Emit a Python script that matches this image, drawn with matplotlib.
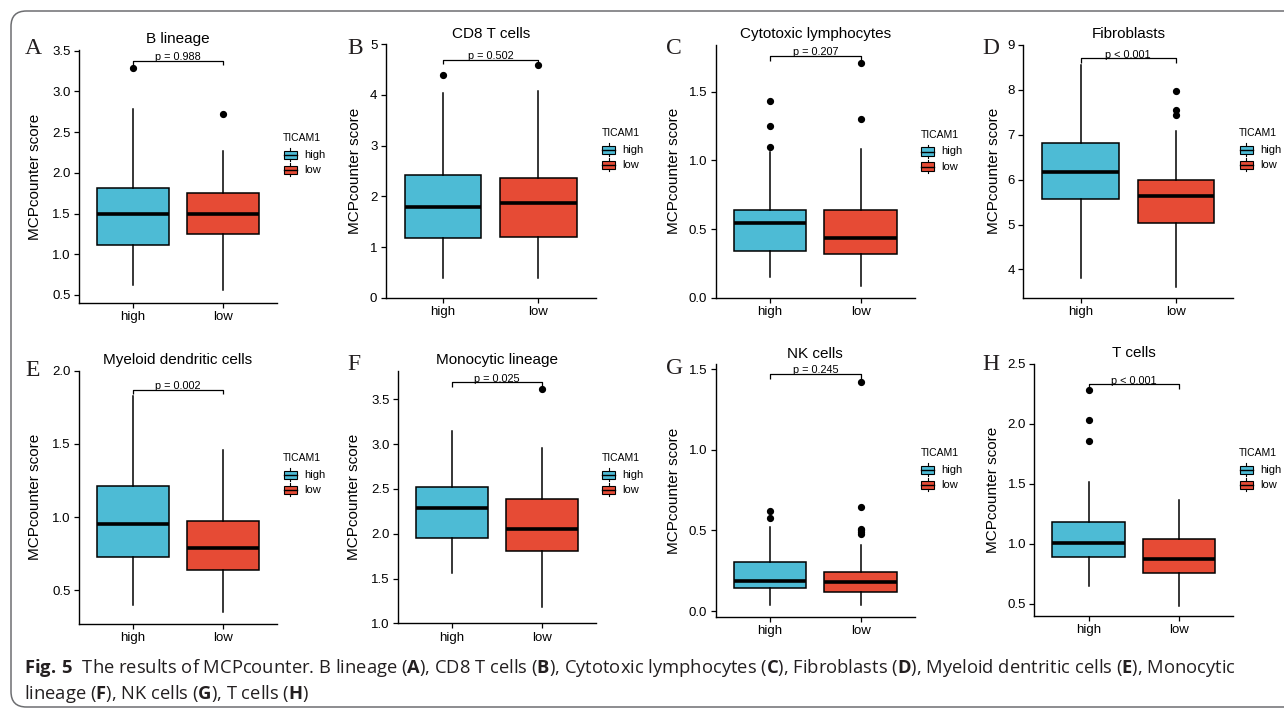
import matplotlib
matplotlib.use("Agg")
import matplotlib.pyplot as plt
from matplotlib import patches, font_manager
from matplotlib.lines import Line2D

W, H = 1284, 711

# ---- data ----
titles = ["B lineage", "CD8 T cells", "Cytotoxic lymphocytes", "Fibroblasts",
          "Myeloid dendritic cells", "Monocytic lineage", "NK cells", "T cells"]
letters = ["A", "B", "C", "D", "E", "F", "G", "H"]
groups = ["high", "low"]
p_text = ["p = 0.988", "p = 0.502", "p = 0.207", "p < 0.001",
          "p = 0.002", "p = 0.025", "p = 0.245", "p < 0.001"]
bracket_y = [3.38, 4.70, 1.76, 8.70, 1.87, 3.69, 1.47, 2.33]

# whisker low, Q1, median, Q3, whisker high
high_stats = [
    [0.62, 1.11, 1.50, 1.81, 2.79],
    [0.38, 1.17, 1.78, 2.43, 4.04],
    [0.15, 0.34, 0.545, 0.635, 1.06],
    [3.82, 5.57, 6.17, 6.82, 8.55],
    [0.40, 0.73, 0.95, 1.21, 1.83],
    [1.56, 1.95, 2.29, 2.52, 3.15],
    [0.037, 0.14, 0.188, 0.306, 0.52],
    [0.65, 0.895, 1.005, 1.18, 1.52],
]
low_stats = [
    [0.56, 1.245, 1.49, 1.755, 2.27],
    [0.38, 1.19, 1.86, 2.36, 4.08],
    [0.085, 0.316, 0.433, 0.635, 1.08],
    [3.61, 5.03, 5.63, 5.99, 7.09],
    [0.35, 0.637, 0.789, 0.973, 1.46],
    [1.185, 1.81, 2.05, 2.39, 2.96],
    [0.037, 0.116, 0.182, 0.242, 0.41],
    [0.486, 0.758, 0.874, 1.04, 1.37],
]
high_out = [[3.29], [4.39], [1.10, 1.25, 1.43], [], [], [], [0.58, 0.62], [1.86, 2.03, 2.28]]
low_out = [[2.72], [4.59], [1.30, 1.71], [7.43, 7.56, 7.97], [], [3.62],
           [0.48, 0.49, 0.50, 0.51, 0.647, 1.42], []]

ytick_labels = [
    ["0.5", "1.0", "1.5", "2.0", "2.5", "3.0", "3.5"],
    ["0", "1", "2", "3", "4", "5"],
    ["0.0", "0.5", "1.0", "1.5"],
    ["4", "5", "6", "7", "8", "9"],
    ["0.5", "1.0", "1.5", "2.0"],
    ["1.0", "1.5", "2.0", "2.5", "3.0", "3.5"],
    ["0.0", "0.5", "1.0", "1.5"],
    ["0.5", "1.0", "1.5", "2.0", "2.5"],
]
ylims = [(0.40, 3.51), (0.0, 5.0), (0.0, 1.84), (3.37, 9.0),
         (0.27, 2.0), (1.0, 3.82), (-0.035, 1.53), (0.40, 2.5)]

# ---- layout (pixels from top-left) ----
ax_px = [(79, 50, 277, 303), (385.7, 44.3, 595.7, 297.7), (715.7, 45, 915, 297.7),
         (1023.3, 45, 1233.3, 297.7), (79, 370.7, 276.7, 624), (397.7, 370.7, 595.7, 623.3),
         (715.7, 364.3, 915, 616.7), (1034.3, 364, 1233.3, 616)]
ylab_x = [35, 355, 674, 994, 35, 354, 674, 993]
letter_xy = [(25, 48), (347, 48), (666, 48), (982, 48),
             (25, 371), (347, 364), (666, 369), (982, 364)]
legend_xy = [(283.3, 138.3), (601.7, 133.3), (920.7, 135), (1239.3, 133.3),
             (283.3, 458.3), (601.7, 458.3), (920.7, 453.3), (1239.3, 453.3)]

colors = ["#4DBBD5", "#E64B35"]
sans = "Liberation Sans"

fig = plt.figure(figsize=(W / 100, H / 100), dpi=100)


def fx(x):
    return x / W


def fy(y):
    return 1 - y / H


for i in range(8):
    l, t, r, b = ax_px[i]
    ax = fig.add_axes([fx(l), fy(b), (r - l) / W, (b - t) / H])
    stats = []
    for g, s, o in zip(groups, [high_stats[i], low_stats[i]], [high_out[i], low_out[i]]):
        stats.append(dict(label=g, whislo=s[0], q1=s[1], med=s[2], q3=s[3],
                          whishi=s[4], fliers=o))
    bp = ax.bxp(stats, positions=[1, 2], widths=0.8, patch_artist=True, showcaps=False,
                boxprops=dict(edgecolor="black", linewidth=1.1),
                medianprops=dict(color="black", linewidth=2.6, solid_capstyle="butt"),
                whiskerprops=dict(color="black", linewidth=1.1),
                flierprops=dict(marker="o", markerfacecolor="black", markeredgecolor="black",
                                markersize=4.2))
    for patch, c in zip(bp["boxes"], colors):
        patch.set_facecolor(c)
    ax.set_xlim(0.4, 2.6)
    ax.set_ylim(*ylims[i])
    ax.set_yticks([float(v) for v in ytick_labels[i]])
    ax.set_yticklabels(ytick_labels[i])
    ax.set_xticks([1, 2])
    ax.set_xticklabels(groups)
    for side in ["top", "right"]:
        ax.spines[side].set_visible(False)
    for side in ["left", "bottom"]:
        ax.spines[side].set_linewidth(1.0)
    ax.tick_params(length=3.5, width=0.9, labelsize=9.5, pad=2.5, colors="black")
    for lab in ax.get_xticklabels() + ax.get_yticklabels():
        lab.set_fontfamily(sans)
    ax.set_title(titles[i], fontsize=11, family=sans, pad=4.8)

    # significance bracket
    yb = bracket_y[i]
    d = 0.018 * (ylims[i][1] - ylims[i][0])
    ax.plot([1, 1, 2, 2], [yb - d, yb, yb, yb - d], color="black", lw=0.9,
            clip_on=False, solid_capstyle="butt")
    ax.annotate(p_text[i], (1.5, yb), xytext=(0, 0.6), textcoords="offset points",
                ha="center", va="baseline", fontsize=7.8, family=sans, annotation_clip=False)

    # y label
    fig.text(fx(ylab_x[i]), fy((t + b) / 2), "MCPcounter score", rotation=90,
             ha="center", va="center", fontsize=11, family=sans)

    # panel letter
    lx, ly = letter_xy[i]
    fig.text(fx(lx), fy(ly), letters[i], ha="left", va="center", fontsize=17,
             family="Liberation Serif", color="#231F20")

    # legend
    gx, gy = legend_xy[i]
    fig.text(fx(gx), fy(gy), "TICAM1", ha="left", va="center", fontsize=7.5, family=sans)
    for k, (g, c) in enumerate(zip(groups, colors)):
        ky = gy + 16.5 + 15 * k
        fig.patches.append(patches.Rectangle((fx(gx + 0.5), fy(ky + 4.3)), 13 / W, 8.6 / H,
                                             transform=fig.transFigure, facecolor=c,
                                             edgecolor="black", linewidth=0.8))
        fig.lines.append(Line2D([fx(gx + 0.5), fx(gx + 13.5)], [fy(ky), fy(ky)],
                                transform=fig.transFigure, color="black", lw=1.0))
        for y0, y1 in [(ky - 4.3, ky - 6.5), (ky + 4.3, ky + 6.5)]:
            fig.lines.append(Line2D([fx(gx + 7), fx(gx + 7)], [fy(y0), fy(y1)],
                                    transform=fig.transFigure, color="black", lw=0.8))
        fig.text(fx(gx + 20.5), fy(ky), g, ha="left", va="center", fontsize=8, family=sans)

# outer frame
fig.patches.append(patches.FancyBboxPatch((fx(11), fy(707)), 1300 / W, 696 / H,
                                          boxstyle="round,pad=0,rounding_size=0.012",
                                          transform=fig.transFigure, facecolor="none",
                                          edgecolor="#6D6E71", linewidth=1.1,
                                          mutation_aspect=W / H))

# caption
names = {f.name for f in font_manager.fontManager.ttflist}
cap_font = "Liberation Sans Narrow" if "Liberation Sans Narrow" in names else "Open Sans"
plt.rcParams["mathtext.fontset"] = "custom"
plt.rcParams["mathtext.rm"] = cap_font
plt.rcParams["mathtext.bf"] = cap_font + ":bold"

line1 = (r"$\mathbf{Fig.\,5}$  The results of MCPcounter. B lineage ($\mathbf{A}$), "
         r"CD8 T cells ($\mathbf{B}$), Cytotoxic lymphocytes ($\mathbf{C}$), "
         r"Fibroblasts ($\mathbf{D}$), Myeloid dentritic cells ($\mathbf{E}$), Monocytic")
line2 = r"lineage ($\mathbf{F}$), NK cells ($\mathbf{G}$), T cells ($\mathbf{H}$)"

t1 = fig.text(fx(24), fy(673), line1, ha="left", va="baseline", fontsize=12,
              family=cap_font, color="#231F20")
renderer = fig.canvas.get_renderer()
width = t1.get_window_extent(renderer).width
size = 12 * 1209 / width
t1.set_fontsize(size)
fig.text(fx(24), fy(699), line2, ha="left", va="baseline", fontsize=size,
         family=cap_font, color="#231F20")

fig.savefig("out.png", dpi=100)
